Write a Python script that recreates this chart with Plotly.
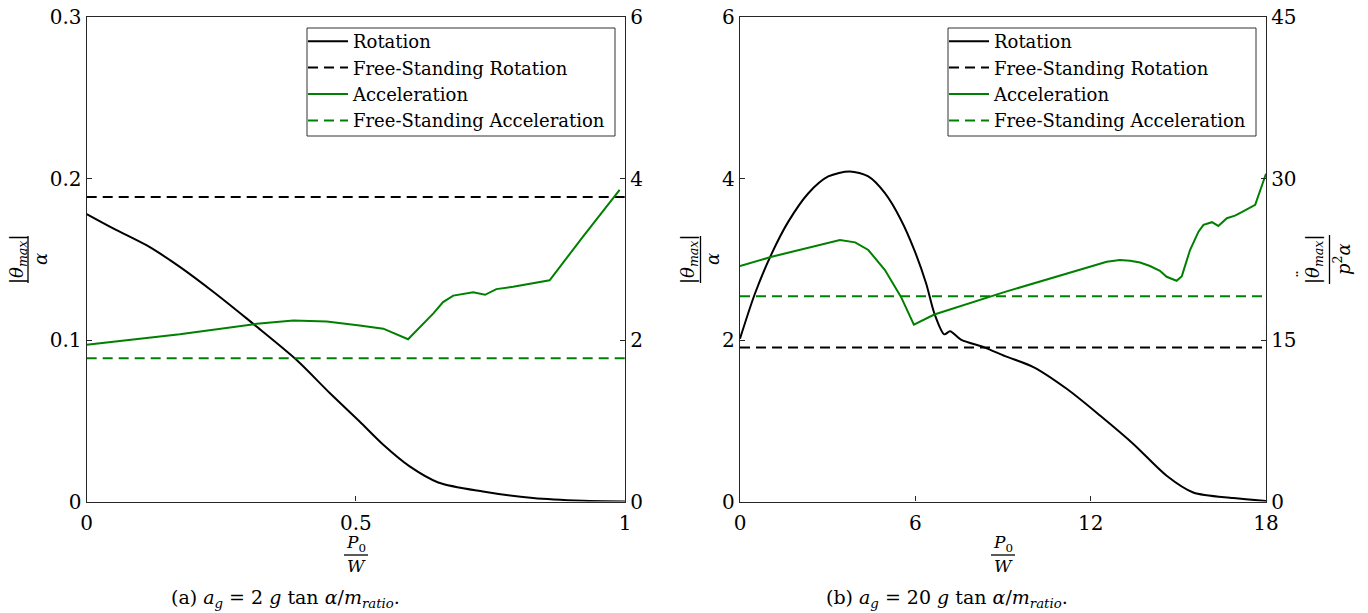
import plotly.graph_objects as go

W, H = 1368, 613
SERIF = "DejaVu Serif, Liberation Serif, serif"
GREEN = "#008000"
AX = "#262626"

# ---------------- data: panel (a) ----------------
rot_a_x = [0, 0.05, 0.111, 0.173, 0.235, 0.297, 0.316, 0.39, 0.452, 0.507, 0.551, 0.6, 0.653, 0.736, 0.829, 0.922, 1.0]
rot_a_y = [0.178, 0.169, 0.1587, 0.1453, 0.1299, 0.1134, 0.1082, 0.0876, 0.067, 0.0495, 0.0351, 0.0217, 0.0118, 0.0062, 0.0021, 0.0004, 0.0]
acc_a_x = [0, 0.173, 0.316, 0.384, 0.446, 0.489, 0.507, 0.551, 0.597, 0.644, 0.662, 0.681, 0.718, 0.740, 0.761, 0.792, 0.860, 0.922, 0.99]
acc_a_y = [1.94, 2.07, 2.20, 2.24, 2.23, 2.20, 2.18, 2.14, 2.01, 2.33, 2.47, 2.55, 2.59, 2.56, 2.63, 2.66, 2.74, 3.28, 3.86]
free_rot_a = 0.1886
free_acc_a = 1.774
xr_a = [0, 1]

# ---------------- data: panel (b) ----------------
rot_b_x = [0, 0.513, 1.084, 1.654, 2.34, 3.02, 3.76, 4.39, 4.96, 5.51, 5.97, 6.37, 6.65, 6.99, 7.19, 7.56, 8.38, 9.07, 10.04, 11.18, 12.32, 13.46, 14.6, 15.51, 16.88, 18.0]
rot_b_y = [2.017, 2.576, 3.07, 3.466, 3.818, 4.025, 4.087, 4.025, 3.818, 3.487, 3.11, 2.70, 2.33, 2.07, 2.108, 2.005, 1.906, 1.80, 1.665, 1.396, 1.065, 0.713, 0.319, 0.112, 0.042, 0.005]
acc_b_x = [0, 1.084, 3.42, 3.94, 4.39, 4.96, 5.51, 5.95, 6.65, 9.07, 12.55, 13.0, 13.35, 13.69, 14.03, 14.37, 14.6, 14.94, 15.12, 15.4, 15.69, 15.86, 16.15, 16.37, 16.66, 16.94, 17.17, 17.63, 18.0]
acc_b_y = [21.87, 22.73, 24.29, 24.07, 23.36, 21.5, 19.0, 16.43, 17.37, 19.47, 22.27, 22.43, 22.36, 22.2, 21.87, 21.43, 20.87, 20.5, 20.93, 23.36, 25.06, 25.69, 25.94, 25.59, 26.31, 26.55, 26.87, 27.55, 30.44]
free_rot_b = 1.906
free_acc_b = 19.07
xr_b = [0, 18]

names = ["Rotation", "Free-Standing Rotation", "Acceleration", "Free-Standing Acceleration"]

def px(x):
    return x / W

def py(y):
    return 1 - y / H

DASH = "10px,6px"
LW = 2

fig = go.Figure()

def add_panel(xa, ya, ya2, leg, rx, ry, fr, ax_, ay_, fa, xr):
    fig.add_trace(go.Scatter(x=rx, y=ry, mode="lines", name=names[0], xaxis=xa, yaxis=ya, legend=leg,
                             line=dict(color="black", width=LW, shape="spline", smoothing=0.8)))
    fig.add_trace(go.Scatter(x=xr, y=[fr, fr], mode="lines", name=names[1], xaxis=xa, yaxis=ya, legend=leg,
                             line=dict(color="black", width=LW, dash=DASH)))
    fig.add_trace(go.Scatter(x=ax_, y=ay_, mode="lines", name=names[2], xaxis=xa, yaxis=ya2, legend=leg,
                             line=dict(color=GREEN, width=LW)))
    fig.add_trace(go.Scatter(x=xr, y=[fa, fa], mode="lines", name=names[3], xaxis=xa, yaxis=ya2, legend=leg,
                             line=dict(color=GREEN, width=LW, dash=DASH)))

add_panel("x", "y", "y2", "legend", rot_a_x, rot_a_y, free_rot_a, acc_a_x, acc_a_y, free_acc_a, xr_a)
add_panel("x2", "y3", "y4", "legend2", rot_b_x, rot_b_y, free_rot_b, acc_b_x, acc_b_y, free_acc_b, xr_b)

tickfont = dict(family=SERIF, size=20, color="black")
common_axis = dict(showgrid=False, zeroline=False, showline=True, linecolor=AX, linewidth=1.3,
                   ticks="inside", ticklen=5, tickwidth=1, tickcolor=AX, tickfont=tickfont,
                   automargin=False, fixedrange=True)

dom_y = [py(501.5), py(17)]
dom_a = [px(86.7), px(625)]
dom_b = [px(740), px(1266)]

legfont = dict(family=SERIF, size=18, color="black")

fig.update_layout(
    width=W, height=H,
    margin=dict(l=0, r=0, t=0, b=0),
    paper_bgcolor="white", plot_bgcolor="white",
    showlegend=True,
    xaxis=dict(domain=dom_a, range=[0, 1], tickvals=[0, 0.5, 1], ticktext=["0", "0.5", "1"],
               anchor="y", mirror=True, ticklabelstandoff=3, **common_axis),
    yaxis=dict(domain=dom_y, range=[0, 0.3], tickvals=[0, 0.1, 0.2, 0.3], ticktext=["0", "0.1", "0.2", "0.3"],
               anchor="x", **common_axis),
    yaxis2=dict(range=[0, 6], tickvals=[0, 2, 4, 6], ticktext=["0", "2", "4", "6"],
                overlaying="y", side="right", anchor="x", **common_axis),
    xaxis2=dict(domain=dom_b, range=[0, 18], tickvals=[0, 6, 12, 18], ticktext=["0", "6", "12", "18"],
                anchor="y3", mirror=True, ticklabelstandoff=3, **common_axis),
    yaxis3=dict(domain=dom_y, range=[0, 6], tickvals=[0, 2, 4, 6], ticktext=["0", "2", "4", "6"],
                anchor="x2", **common_axis),
    yaxis4=dict(range=[0, 45], tickvals=[0, 15, 30, 45], ticktext=["0", "15", "30", "45"],
                overlaying="y3", side="right", anchor="x2", **common_axis),
    legend=dict(x=px(303), xanchor="left", y=py(23), yanchor="top", bgcolor="rgba(0,0,0,0)",
                borderwidth=0, font=legfont, itemwidth=40, tracegroupgap=0),
    legend2=dict(x=px(944), xanchor="left", y=py(23), yanchor="top", bgcolor="rgba(0,0,0,0)",
                 borderwidth=0, font=legfont, itemwidth=40, tracegroupgap=0),
)

annots = []
shapes = []

def text(x, y, s, size=20, angle=0):
    annots.append(dict(x=px(x), y=py(y), xref="paper", yref="paper", text=s, showarrow=False,
                       xanchor="center", yanchor="middle", textangle=angle,
                       font=dict(family=SERIF, size=size, color="black")))

def hbar(x0, x1, y):
    shapes.append(dict(type="line", xref="paper", yref="paper", x0=px(x0), x1=px(x1), y0=py(y), y1=py(y),
                       line=dict(color="black", width=1.3)))

def vbar(x, y0, y1):
    shapes.append(dict(type="line", xref="paper", yref="paper", x0=px(x), x1=px(x), y0=py(y0), y1=py(y1),
                       line=dict(color="black", width=1.3)))

# legend frames
for x0, x1 in ((307, 615), (948, 1256)):
    shapes.append(dict(type="rect", xref="paper", yref="paper", x0=px(x0), x1=px(x1), y0=py(136), y1=py(28),
                       line=dict(color="#333", width=1), fillcolor="rgba(0,0,0,0)", layer="above"))

# y-axis labels (rotated fractions)
num_theta = "|<i>θ</i><sub><i>max</i></sub>|"
text(18, 259, num_theta, 18, -90)
vbar(28, 236, 283)
text(40, 259, "<i>α</i>", 18, -90)

text(689, 259, num_theta, 18, -90)
vbar(700.5, 236, 283)
text(712, 259, "<i>α</i>", 18, -90)

text(1314, 259, num_theta, 18, -90)
text(1303, 274, "¨", 16, -90)
vbar(1329.5, 235, 284)
text(1342, 259, "<i>p</i><sup>2</sup><i>α</i>", 18, -90)

# x-axis labels (fractions)
for cx in (356, 1003):
    text(cx, 543, "<i>P</i><sub>0</sub>", 17)
    hbar(cx - 12, cx + 12, 555)
    text(cx, 566, "<i>W</i>", 17)

# captions
text(285, 598, "(a) <i>a<sub>g</sub></i> = 2 <i>g</i> tan <i>α</i>/<i>m<sub>ratio</sub></i>.", 19)
text(947, 598, "(b) <i>a<sub>g</sub></i> = 20 <i>g</i> tan <i>α</i>/<i>m<sub>ratio</sub></i>.", 19)

fig.update_layout(annotations=annots, shapes=shapes)
fig.write_html("out.html", config={"displayModeBar": False})
